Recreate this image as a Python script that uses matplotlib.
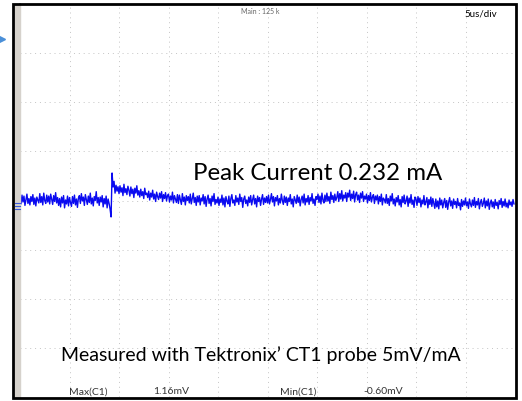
import numpy as np
import matplotlib
matplotlib.use("Agg")
import matplotlib.pyplot as plt
from matplotlib.patches import Rectangle
from matplotlib.lines import Line2D

# scope settings
time_per_div = 5.0      # us/div
volt_per_div = 2.0      # mV/div
n_xdiv = 10
n_ydiv = 8

# trace, one sample every 0.1 us (mV); one row = 1 us
trace_mv = [
    0.10, -0.14, 0.22, -0.06, 0.18, -0.20, 0.04, 0.26, -0.12, 0.08,
    -0.18, 0.16, -0.04, 0.24, -0.16, 0.10, -0.22, 0.14, 0.02, -0.10,
    0.28, -0.08, 0.16, -0.18, 0.30, 0.00, -0.12, 0.22, -0.06, 0.18,
    -0.14, 0.26, 0.06, -0.16, 0.20, -0.04, 0.32, -0.10, 0.12, -0.20,
    0.08, -0.26, 0.14, -0.10, 0.20, -0.30, 0.02, -0.14, 0.18, -0.22,
    0.12, -0.08, -0.24, 0.16, -0.12, 0.22, -0.18, 0.06, -0.28, 0.10,
    0.20, -0.12, 0.28, -0.02, 0.14, -0.20, 0.24, 0.04, -0.16, 0.18,
    -0.08, 0.30, -0.14, 0.10, -0.22, 0.16, 0.00, 0.36, -0.10, 0.12,
    -0.20, 0.14, -0.06, 0.20, -0.26, 0.08, -0.14, 0.18, -0.30, 0.06,
    -0.12, -0.35, -0.67, 1.12, 0.55, 0.78, 0.30, 0.62, 0.38, 0.56,
    0.28, 0.60, 0.34, 0.52, 0.20, 0.66, 0.32, 0.48, 0.24, 0.58,
    0.42, 0.18, 0.55, 0.28, 0.46, 0.12, 0.50, 0.30, 0.60, 0.22,
    0.40, 0.14, 0.46, 0.20, 0.36, 0.08, 0.50, 0.24, 0.30, 0.12,
    0.38, 0.02, 0.30, 0.14, 0.42, 0.06, 0.26, -0.04, 0.34, 0.16,
    0.04, 0.30, 0.10, 0.36, -0.04, 0.24, 0.08, 0.32, -0.02, 0.20,
    0.26, -0.06, 0.18, 0.02, 0.34, -0.10, 0.20, 0.06, -0.08, 0.24,
    -0.12, 0.22, 0.04, -0.16, 0.28, -0.04, 0.14, -0.18, 0.20, 0.00,
    0.16, -0.10, 0.26, -0.14, 0.08, 0.30, -0.08, 0.12, -0.20, 0.18,
    -0.06, 0.20, -0.18, 0.10, -0.02, 0.24, -0.14, 0.16, -0.24, 0.06,
    0.22, -0.12, 0.08, -0.22, 0.18, -0.04, 0.28, -0.16, 0.04, -0.10,
    0.14, -0.20, 0.06, -0.08, 0.22, -0.18, 0.10, -0.26, 0.16, -0.02,
    -0.14, 0.18, -0.24, 0.08, 0.24, -0.10, 0.02, -0.20, 0.20, -0.06,
    0.10, -0.16, 0.26, -0.04, 0.12, -0.28, 0.06, 0.18, -0.12, 0.02,
    -0.22, 0.14, -0.08, 0.20, -0.18, 0.04, 0.22, -0.14, 0.08, -0.26,
    0.18, -0.04, 0.12, -0.20, 0.06, 0.24, -0.16, 0.10, -0.08, 0.16,
    -0.10, 0.22, -0.14, 0.04, 0.28, -0.06, 0.16, -0.22, 0.12, -0.02,
    0.20, -0.18, 0.08, -0.10, 0.26, 0.00, -0.16, 0.18, -0.08, 0.14,
    -0.20, 0.10, -0.04, 0.24, -0.14, 0.06, -0.26, 0.16, 0.02, -0.12,
    0.22, -0.08, 0.14, -0.22, 0.04, 0.18, -0.10, 0.26, -0.18, 0.08,
    -0.06, 0.20, -0.16, 0.12, -0.02, 0.28, -0.12, 0.06, -0.20, 0.16,
    0.04, 0.26, -0.08, 0.18, -0.14, 0.30, 0.02, -0.10, 0.22, -0.04,
    0.30, -0.02, 0.16, -0.12, 0.34, 0.04, 0.20, -0.08, 0.26, 0.00,
    0.12, 0.36, -0.04, 0.28, 0.06, 0.40, -0.02, 0.22, 0.10, 0.32,
    -0.04, 0.30, 0.14, 0.42, 0.00, 0.26, 0.08, 0.38, -0.06, 0.24,
    0.34, 0.02, 0.22, -0.08, 0.30, 0.10, 0.36, -0.04, 0.18, 0.06,
    0.26, -0.10, 0.20, 0.00, 0.32, -0.06, 0.14, 0.24, -0.12, 0.18,
    0.02, 0.22, -0.14, 0.16, -0.04, 0.26, -0.18, 0.10, 0.04, -0.10,
    0.24, -0.12, 0.08, -0.20, 0.18, -0.02, 0.28, -0.14, 0.06, -0.22,
    0.12, -0.06, 0.20, -0.18, 0.04, -0.26, 0.16, -0.08, 0.22, -0.14,
    -0.02, 0.18, -0.24, 0.10, -0.10, 0.24, -0.16, 0.02, -0.28, 0.14,
    0.06, -0.20, 0.16, -0.08, 0.10, -0.26, 0.02, -0.14, 0.20, -0.18,
    -0.06, 0.12, -0.30, 0.04, -0.16, 0.14, -0.24, 0.08, -0.12, -0.32,
    0.06, -0.26, -0.02, -0.34, 0.10, -0.18, 0.02, -0.30, -0.08, 0.08,
    -0.28, 0.00, -0.36, -0.06, 0.12, -0.22, -0.02, -0.32, 0.06, -0.16,
    -0.04, -0.30, 0.08, -0.20, -0.10, -0.38, 0.04, -0.24, -0.02, -0.18,
    0.10, -0.22, -0.06, -0.32, 0.06, -0.14, -0.26, 0.02, -0.20, 0.12,
    -0.28, -0.04, -0.18, 0.08, -0.34, -0.08, 0.04, -0.24, -0.12, 0.10,
    -0.30, -0.02, -0.22, 0.06, -0.36, -0.10, 0.02, -0.26, -0.06, -0.32,
    0.04, -0.20, -0.08, -0.34, 0.00, -0.16, 0.08, -0.28, -0.04, -0.22,
    0.06, -0.26, -0.10, -0.30, 0.02, -0.18, -0.06, -0.24, 0.04, -0.14,
]
sample_us = 0.1

header_text = "Main : 125 k"
scale_text = "5us/div"
peak_text = "Peak Current 0.232 mA"
probe_text = "Measured with Tektronix\u2019 CT1 probe 5mV/mA"
stat_labels = ["Max(C1)", "1.16mV", "Min(C1)", "-0.60mV"]

W, H = 522, 402
FONT = ["Lato", "DejaVu Sans"]


def fx(px):
    return px / W


def fy(py):
    return 1 - py / H


fig = plt.figure(figsize=(W / 100, H / 100), dpi=100)
fig.patch.set_facecolor("white")

ax = fig.add_axes([fx(20), fy(398), fx(515) - fx(20), fy(5) - fy(398)])
t = np.arange(len(trace_mv)) * sample_us
ax.plot(t, trace_mv, color="#0a0af0", linewidth=1.0, zorder=3)

ax.set_xlim(0, n_xdiv * time_per_div)
ax.set_ylim(-n_ydiv / 2 * volt_per_div, n_ydiv / 2 * volt_per_div)
ax.set_xticks(np.arange(0, n_xdiv + 1) * time_per_div)
ax.set_yticks(np.arange(-n_ydiv / 2, n_ydiv / 2 + 1) * volt_per_div)
ax.tick_params(length=0, labelbottom=False, labelleft=False)
ax.grid(color="#c4c4c4", linestyle=(0, (1, 4)), linewidth=0.7)

for side in ["top", "right", "bottom"]:
    ax.spines[side].set_visible(False)
ax.spines["left"].set_color("#555555")
ax.spines["left"].set_linewidth(1.2)
ax.spines["left"].set_linestyle((0, (3, 2)))

# outer frame and grey strip on the left
fig.patches.append(Rectangle((fx(13), fy(398.5)), fx(516) - fx(13), fy(5) - fy(398.5),
                             transform=fig.transFigure, fill=False,
                             edgecolor="black", linewidth=2, zorder=6))
fig.patches.append(Rectangle((fx(14), fy(398)), fx(19.5) - fx(14), fy(5) - fy(398),
                             transform=fig.transFigure, color="#d6d2cc", zorder=5))

# trigger arrow and channel marker
fig.lines.append(Line2D([fx(1.5)], [fy(40)], marker=">", markersize=5,
                        color="#4a8fd8", transform=fig.transFigure))
for dy in [204, 207, 210]:
    fig.lines.append(Line2D([fx(14.5), fx(19.5)], [fy(dy), fy(dy)], color="#3b5bdb",
                            linewidth=0.8, transform=fig.transFigure, zorder=7))

fig.text(fx(260), fy(12), header_text, fontsize=5, color="#666666", family=FONT,
         ha="center", va="center")
fig.text(fx(481), fy(14), scale_text, fontsize=7, color="black", family=FONT,
         ha="center", va="center")
fig.text(fx(318), fy(174), peak_text, fontsize=17.3, color="black", family=FONT,
         ha="center", va="center")
fig.text(fx(261), fy(355), probe_text, fontsize=14, color="black", family=FONT,
         ha="center", va="center")

for label, xc in zip(stat_labels, [88, 171, 298, 383]):
    fig.text(fx(xc), fy(392), label, fontsize=7.5, color="#333333", family=FONT,
             ha="center", va="center")

fig.savefig("out.png", dpi=100)
